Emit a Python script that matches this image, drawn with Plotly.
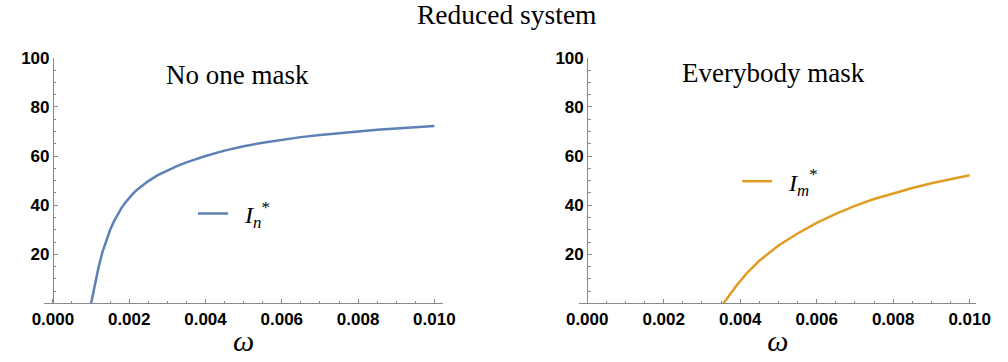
import plotly.graph_objects as go

# ---- data ----
omega_n = [0.001, 0.00105, 0.0011, 0.0012, 0.0013, 0.0014, 0.0015, 0.0016, 0.0017, 0.0018,
           0.0019, 0.002, 0.0021, 0.0022, 0.0023, 0.0024, 0.0025, 0.00275, 0.003, 0.00325,
           0.0035, 0.00375, 0.004, 0.0045, 0.005, 0.0055, 0.006, 0.0065, 0.007, 0.0075,
           0.008, 0.0085, 0.009, 0.0095, 0.010]
I_n = [0, 4.0, 8.0, 15.0, 21.0, 26.0, 30.0, 33.4, 36.3, 38.9,
       41.1, 43.0, 44.7, 46.2, 47.5, 48.7, 49.8, 52.2, 54.2, 55.9,
       57.4, 58.8, 60.0, 62.2, 64.0, 65.4, 66.6, 67.7, 68.6, 69.4,
       70.1, 70.7, 71.2, 71.7, 72.2]

omega_m = [0.00356, 0.0037, 0.0038, 0.0039, 0.004, 0.0042, 0.0045, 0.00475, 0.005, 0.0055,
           0.006, 0.0065, 0.007, 0.0075, 0.008, 0.0085, 0.009, 0.0095, 0.010]
I_m = [0, 3.1, 5.2, 7.2, 9.1, 12.8, 17.4, 20.7, 23.6, 28.5,
       32.8, 36.5, 39.7, 42.5, 44.9, 47.0, 48.9, 50.6, 52.2]

x_tickvals = [0.000, 0.002, 0.004, 0.006, 0.008, 0.010]
x_ticktext = ["0.000", "0.002", "0.004", "0.006", "0.008", "0.010"]
y_tickvals = [20, 40, 60, 80, 100]
y_ticktext = ["20", "40", "60", "80", "100"]

title_text = "Reduced system"
panel_titles = ["No one mask", "Everybody mask"]
series_names = ["\u00a0\u00a0<i>I</i><sub><i>n</i></sub><sup>*</sup>",
                "\u00a0\u00a0<i>I</i><sub><i>m</i></sub><sup>*</sup>"]

BLUE = "#5E81B5"
ORANGE = "#E19C24"
AXIS = "#8a8a8a"
SERIF = "Liberation Serif, Times New Roman, serif"
SANS = "Liberation Sans, Arial, sans-serif"

W, H = 1008, 362

fig = go.Figure()
fig.add_trace(go.Scatter(x=omega_n, y=I_n, mode="lines", name=series_names[0],
                         line=dict(color=BLUE, width=2.5, shape="linear"),
                         xaxis="x", yaxis="y", legend="legend"))
fig.add_trace(go.Scatter(x=omega_m, y=I_m, mode="lines", name=series_names[1],
                         line=dict(color=ORANGE, width=2.5, shape="linear"),
                         xaxis="x2", yaxis="y2", legend="legend2"))


def bold(labels):
    return ["<b>" + t + "</b>" for t in labels]


def xax(domain, rng, anchor):
    return dict(domain=domain, range=rng, anchor=anchor, showline=True, linecolor=AXIS,
                linewidth=1, showgrid=False, zeroline=False, ticks="inside", ticklen=4,
                tickcolor=AXIS, tickmode="array", tickvals=x_tickvals,
                ticktext=bold(x_ticktext),
                tickfont=dict(family=SANS, size=17, color="black"),
                minor=dict(tickmode="linear", tick0=0, dtick=0.0005, ticks="inside",
                           ticklen=2.5, tickcolor=AXIS, showgrid=False),
                title=dict(text="<i>ω</i>", font=dict(family=SERIF, size=30, color="black"),
                           standoff=2))


def yax(domain, pos):
    return dict(domain=domain, range=[0, 100], anchor="free", position=pos, showline=True,
                linecolor=AXIS, linewidth=1, showgrid=False, zeroline=False, ticks="inside",
                ticklen=4, tickcolor=AXIS, tickmode="array", tickvals=y_tickvals,
                ticktext=bold(y_ticktext),
                tickfont=dict(family=SANS, size=17, color="black"),
                minor=dict(tickmode="linear", tick0=0, dtick=5, ticks="inside",
                           ticklen=2.5, tickcolor=AXIS, showgrid=False))


ydom = [(H - 302) / H, (H - 50) / H]

fig.update_layout(
    width=W, height=H, margin=dict(l=0, r=0, t=0, b=0),
    paper_bgcolor="white", plot_bgcolor="white",
    xaxis=xax([32 / W, 442 / W], [-0.00023, 0.01023], "y"),
    yaxis=yax(ydom, 41 / W),
    xaxis2=xax([582 / W, 990 / W], [-0.000204, 0.010178], "y2"),
    yaxis2=yax(ydom, 590 / W),
    showlegend=True,
    legend=dict(x=185 / W, y=1 - 210 / H, xanchor="left", yanchor="middle",
                bgcolor="rgba(0,0,0,0)", borderwidth=0,
                font=dict(family=SERIF, size=24, color="black")),
    legend2=dict(x=744 / W, y=1 - 177 / H, xanchor="left", yanchor="middle",
                 bgcolor="rgba(0,0,0,0)", borderwidth=0,
                 font=dict(family=SERIF, size=24, color="black")),
    annotations=[
        dict(text=title_text, x=507 / W, y=1 - 6 / H, xref="paper", yref="paper",
             xanchor="center", yanchor="middle", showarrow=False,
             font=dict(family=SERIF, size=27.5, color="black")),
        dict(text=panel_titles[0], x=231 / W, y=1 - 68 / H, xref="paper", yref="paper",
             xanchor="center", yanchor="middle", showarrow=False,
             font=dict(family=SERIF, size=27, color="black")),
        dict(text=panel_titles[1], x=781 / W, y=1 - 66 / H, xref="paper", yref="paper",
             xanchor="center", yanchor="middle", showarrow=False,
             font=dict(family=SERIF, size=27, color="black")),
    ],
)

fig.write_html("out.html")
